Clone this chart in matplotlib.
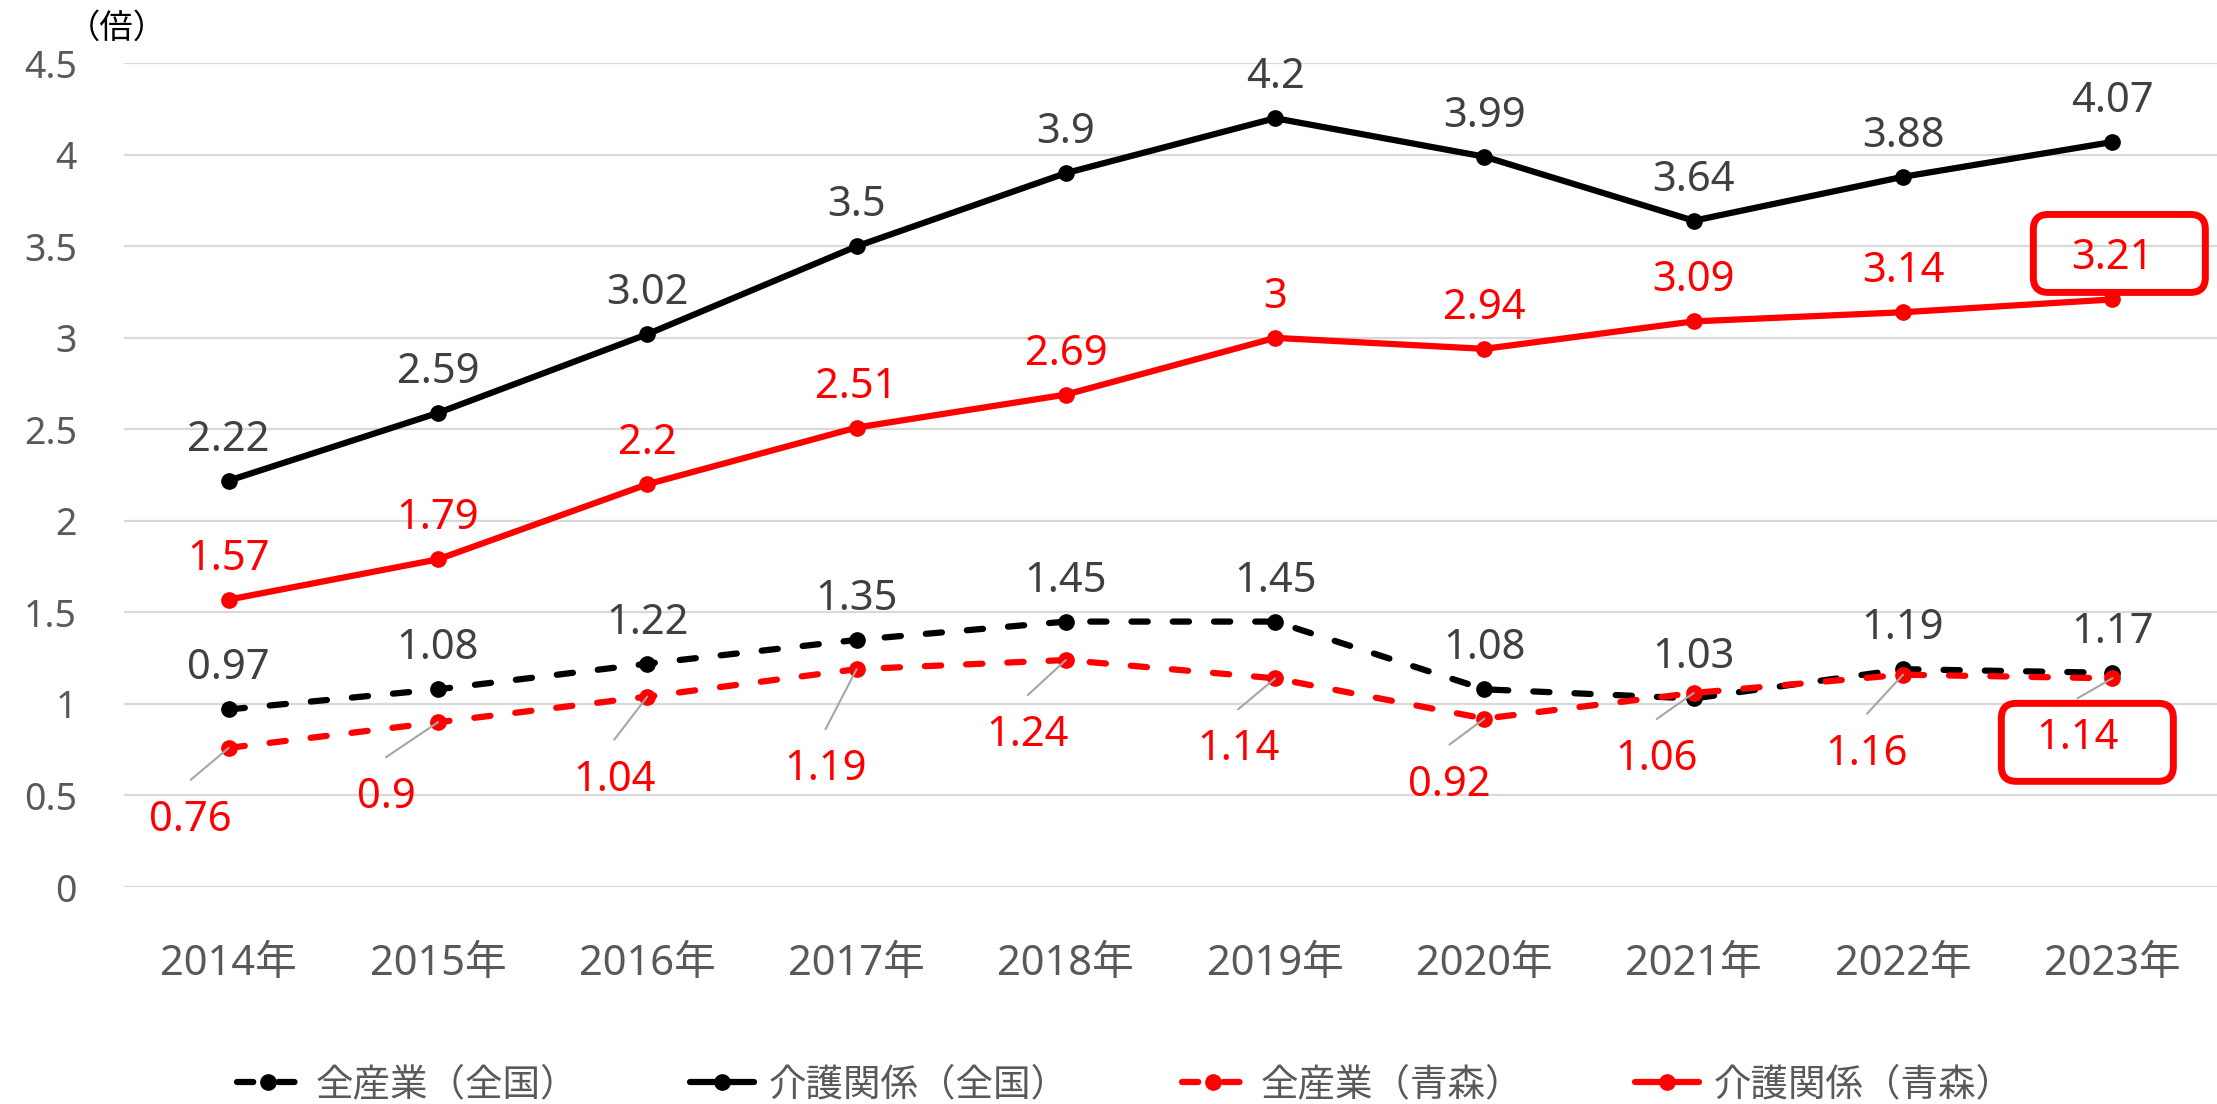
import matplotlib
matplotlib.use("Agg")
import matplotlib.pyplot as plt
import matplotlib.transforms as mtransforms
from matplotlib.patches import FancyBboxPatch

# ---------------- data ----------------
years = ['2014年', '2015年', '2016年', '2017年', '2018年',
         '2019年', '2020年', '2021年', '2022年', '2023年']
all_national = [0.97, 1.08, 1.22, 1.35, 1.45, 1.45, 1.08, 1.03, 1.19, 1.17]
care_national = [2.22, 2.59, 3.02, 3.5, 3.9, 4.2, 3.99, 3.64, 3.88, 4.07]
all_aomori = [0.76, 0.9, 1.04, 1.19, 1.24, 1.14, 0.92, 1.06, 1.16, 1.14]
care_aomori = [1.57, 1.79, 2.2, 2.51, 2.69, 3, 2.94, 3.09, 3.14, 3.21]
series_names = ['全産業（全国）', '介護関係（全国）', '全産業（青森）', '介護関係（青森）']
y_ticks = [0, 0.5, 1, 1.5, 2, 2.5, 3, 3.5, 4, 4.5]
y_tick_labels = ['0', '0.5', '1', '1.5', '2', '2.5', '3', '3.5', '4', '4.5']
unit_label = '（倍）'

# label offsets (pixels) for the Aomori all-industry labels (placed below-left with leaders)
aomori_all_offsets = [(-38, -68), (-52, -71), (-33, -79), (-31, -96), (-38, -71),
                      (-37, -67), (-35, -62), (-37, -62), (-36, -75), (-35, -56)]

# ---------------- style ----------------
W, H = 2217, 1104
DPI = 100
NUM_FONT = ['Noto Sans', 'Noto Sans CJK JP', 'DejaVu Sans']
CJK_FONT = ['Noto Sans CJK JP', 'DejaVu Sans']
plt.rcParams['font.family'] = NUM_FONT

RED = '#FF0000'
BLACK = '#000000'
GRID = '#D9D9D9'
TICK_COL = '#595959'
LAB_DARK = '#404040'
LEADER = '#A6A6A6'

fig = plt.figure(figsize=(W / DPI, H / DPI), dpi=DPI)
left_px, right_px, top_px, bottom_px = 124, 2217, 63.3, 887
ax = fig.add_axes([left_px / W, (H - bottom_px) / H,
                   (right_px - left_px) / W, (bottom_px - top_px) / H])

x = list(range(len(years)))
LW = 4.5
MS = 11
dash = (2.6, 4.0)

l1, = ax.plot(x, all_national, color=BLACK, lw=LW, ls=(0, dash), dash_capstyle='round',
              marker='o', ms=MS, label=series_names[0], zorder=3)
l2, = ax.plot(x, care_national, color=BLACK, lw=LW, ls='-', solid_capstyle='round',
              marker='o', ms=MS, label=series_names[1], zorder=3)
l3, = ax.plot(x, all_aomori, color=RED, lw=LW, ls=(0, dash), dash_capstyle='round',
              marker='o', ms=MS, label=series_names[2], zorder=4)
l4, = ax.plot(x, care_aomori, color=RED, lw=LW, ls='-', solid_capstyle='round',
              marker='o', ms=MS, label=series_names[3], zorder=4)

ax.set_xlim(-0.5, len(years) - 0.5)
ax.set_ylim(0, 4.5)
ax.set_yticks(y_ticks)
ax.set_yticklabels(y_tick_labels)
ax.set_xticks(x)
ax.set_xticklabels(years)
for s in ax.spines.values():
    s.set_visible(False)
ax.grid(axis='y', color=GRID, lw=1.6, zorder=0)
ax.set_axisbelow(True)
ax.tick_params(axis='y', length=0, pad=34, labelsize=27, labelcolor=TICK_COL)
ax.tick_params(axis='x', length=0, pad=40, labelsize=30, labelcolor=TICK_COL)
for t in ax.get_xticklabels():
    t.set_family(NUM_FONT)

LABEL_FS = 30
VA_SHIFT = -4
ABOVE = 45


def fmt(v):
    return '{:g}'.format(v)


for series, col in ((all_national, LAB_DARK), (care_national, LAB_DARK), (care_aomori, RED)):
    for i, v in enumerate(series):
        ax.annotate(fmt(v), xy=(i, v), xytext=(0, ABOVE + VA_SHIFT), textcoords='offset pixels',
                    ha='center', va='center', fontsize=LABEL_FS, color=col, zorder=6)

for i, v in enumerate(all_aomori):
    dx, dy = aomori_all_offsets[i]
    ax.annotate('', xy=(i, v), xytext=(dx, dy + 36), textcoords='offset pixels',
                arrowprops=dict(arrowstyle='-', color=LEADER, lw=1.5, shrinkA=0, shrinkB=0),
                zorder=5)
    ax.annotate(fmt(v), xy=(i, v), xytext=(dx, dy + VA_SHIFT), textcoords='offset pixels',
                ha='center', va='center', fontsize=LABEL_FS, color=RED, zorder=6)

# highlight boxes (in inches relative to the data point)
last = len(years) - 1
for val, (bx, by) in ((care_aomori[last], (-0.79, 0.07)), (all_aomori[last], (-1.11, -1.03))):
    trans = fig.dpi_scale_trans + mtransforms.ScaledTranslation(last, val, ax.transData)
    box = FancyBboxPatch((bx, by), 1.72, 0.78, boxstyle='round,pad=0,rounding_size=0.15',
                         transform=trans, fc='none', ec=RED, lw=5, clip_on=False, zorder=7)
    fig.add_artist(box)

# unit label
fig.text(117 / W, 1 - 28 / H, unit_label, ha='center', va='center', fontsize=24,
         color=BLACK, family=CJK_FONT)

leg = fig.legend(handles=[l1, l2, l3, l4], loc='center', bbox_to_anchor=(0.5076, 19 / H),
                 ncol=4, frameon=False, handlelength=1.7, handletextpad=0.4,
                 columnspacing=3.0, prop={'family': CJK_FONT, 'size': 27})
for t in leg.get_texts():
    t.set_color(TICK_COL)

fig.savefig('out.png', dpi=DPI)
